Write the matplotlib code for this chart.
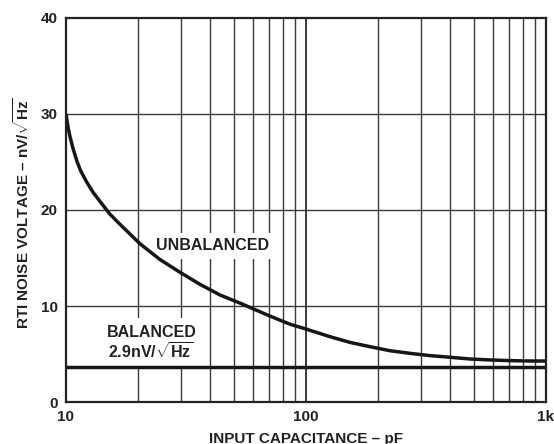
import matplotlib
matplotlib.use("Agg")
import matplotlib.pyplot as plt

plt.rcParams['font.family'] = ['Liberation Sans', 'DejaVu Sans']
plt.rcParams['font.weight'] = 'bold'
plt.rcParams['mathtext.fontset'] = 'custom'
plt.rcParams['mathtext.rm'] = 'Liberation Sans:bold'
plt.rcParams['mathtext.bf'] = 'Liberation Sans:bold'
plt.rcParams['mathtext.it'] = 'Liberation Sans:bold'

# Data
cap_unbal = [10, 10.2, 10.4, 10.7, 11.1, 11.5, 12.2, 13.0, 13.9, 15.2, 16.8, 20.3, 24.6, 29.9,
             36.2, 43.8, 53.1, 64.3, 70.8, 85.8, 100, 126, 153, 185, 224, 271, 329, 398,
             482, 584, 708, 858, 1000]
noise_unbal = [30.0, 28.6, 27.6, 26.4, 25.1, 24.1, 22.9, 21.8, 20.85, 19.6, 18.5, 16.5, 14.85,
               13.5, 12.25, 11.15, 10.3, 9.4, 8.95, 8.1, 7.6, 6.8, 6.2, 5.76, 5.34, 5.07,
               4.83, 4.66, 4.48, 4.38, 4.31, 4.27, 4.27]
cap_bal = [10, 1000]
noise_bal = [3.6, 3.6]

x_ticks = [10, 100, 1000]
x_ticklabels = ['10', '100', '1k']
y_ticks = [0, 10, 20, 30, 40]

W, H = 554, 444
fig = plt.figure(figsize=(W/100, H/100), dpi=100)
L, R, T, B = 66, 546, 18, 402
ax = fig.add_axes([L/W, 1 - B/H, (R-L)/W, (B-T)/H])
ax.set_xscale('log')
ax.set_xlim(10, 1000)
ax.set_ylim(0, 40)

def ax_xy(px, py):
    return (px - L) / (R - L), 1 - (py - T) / (B - T)

# grid
minor = [k * 10**d for d in (1, 2) for k in range(2, 10)]
for xv in minor:
    ax.axvline(xv, color='#3a3a3a', lw=1.0, zorder=1)
ax.axvline(100, color='#2a2a2a', lw=1.3, zorder=1)
for yv in [10, 20, 30]:
    ax.axhline(yv, color='#3a3a3a', lw=1.0, zorder=1)

ax.plot(cap_unbal, noise_unbal, color='#161616', lw=2.5, zorder=3,
        solid_joinstyle='round', solid_capstyle='butt')
ax.plot(cap_bal, noise_bal, color='#161616', lw=2.5, zorder=3)

ax.set_xticks(x_ticks)
ax.set_xticklabels(x_ticklabels)
ax.xaxis.set_minor_locator(matplotlib.ticker.NullLocator())
ax.set_yticks(y_ticks)
ax.tick_params(axis='both', length=0, labelsize=11, colors='#222222')
ax.tick_params(axis='x', pad=6)
ax.tick_params(axis='y', pad=6)
for lab in ax.get_xticklabels() + ax.get_yticklabels():
    lab.set_fontweight('bold')
for s in ax.spines.values():
    s.set_linewidth(1.6)
    s.set_color('#222222')
    s.set_zorder(5)

fs = 11.5
# white patches behind labels (below curves)
x0, y0 = ax_xy(150, 259)
x1, y1 = ax_xy(275, 233)
ax.add_patch(plt.Rectangle((x0, y0), x1 - x0, y1 - y0, transform=ax.transAxes,
                           facecolor='white', edgecolor='none', zorder=2))
x0, y0 = ax_xy(104, 366)
x1, y1 = ax_xy(200, 318)
ax.add_patch(plt.Rectangle((x0, y0), x1 - x0, y1 - y0, transform=ax.transAxes,
                           facecolor='white', edgecolor='none', zorder=2))

x, y = ax_xy(212.5, 246)
ax.text(x, y, 'UNBALANCED', transform=ax.transAxes,
        ha='center', va='center', fontsize=fs, fontweight='bold', color='#222222', zorder=4)
x, y = ax_xy(151.7, 332.5)
ax.text(x, y, 'BALANCED', transform=ax.transAxes,
        ha='center', va='center', fontsize=fs, fontweight='bold', color='#222222', zorder=4)
x, y = ax_xy(151, 351.5)
ax.text(x, y, r'2.9nV/$\sqrt{\mathrm{Hz}}$', transform=ax.transAxes,
        ha='center', va='center', fontsize=fs, fontweight='bold', color='#222222', zorder=4)

fig.text(306/W, 1 - 442.5/H, 'INPUT CAPACITANCE – pF', ha='center', va='baseline',
         fontsize=11, fontweight='bold', color='#222222')
fig.text(22/W, 1 - 213/H, r'RTI NOISE VOLTAGE – nV/$\sqrt{\mathrm{Hz}}$', ha='center', va='center',
         rotation=90, fontsize=11, fontweight='bold', color='#222222')

fig.savefig('out.png', dpi=100)
